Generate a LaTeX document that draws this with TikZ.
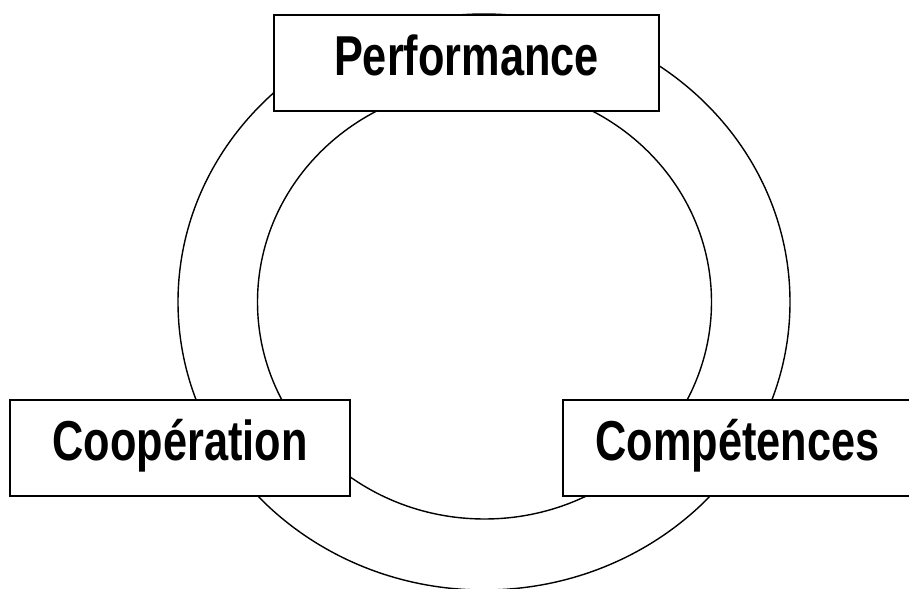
\documentclass[tikz,border=0pt]{standalone}
\usepackage{fontspec}
\setmainfont{Liberation Sans}
\usepackage{graphicx}
\newcommand{\narrowbf}[1]{\scalebox{0.77}[1]{\bfseries #1}}
\tikzset{
  box/.style={draw,line width=1.4pt,fill=white,minimum height=2.4cm,inner sep=0pt,
    text height=1.05cm,text depth=0.425cm,font=\fontsize{40}{48}\selectfont},
  ring/.style={line width=1pt}
}
\begin{document}
\begin{tikzpicture}[x=0.025cm,y=0.025cm]
            \useasboundingbox (0,0) rectangle (909,588);
            \draw[ring](484,286) ellipse [x radius=306,y radius=288];
            \draw[ring](484.5,286) ellipse [x radius=227,y radius=217];
            \node[box,minimum width=9.625cm](perf)at(466.5,525){\narrowbf{Performance}};
            \node[box,minimum width=8.5cm](coop)at(180,140){\narrowbf{Coopération}};
            \node[box,minimum width=8.725cm](comp)at(737.5,140){\narrowbf{Compétences}\hspace{0.475cm}};
\end{tikzpicture}
\end{document}
